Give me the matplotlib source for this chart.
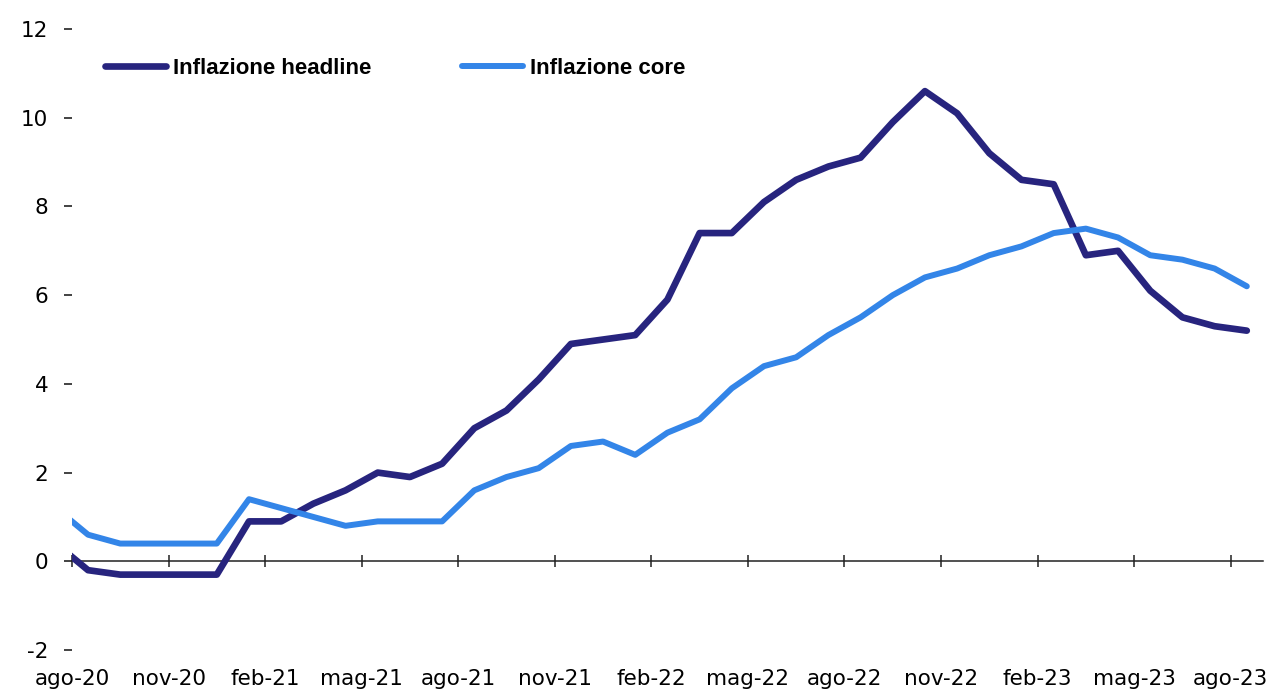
import matplotlib
matplotlib.use('Agg')
import matplotlib.pyplot as plt
import numpy as np


# Mesi (valori a metà mese), da lug-20 ad ago-23
mesi = ['lug-20', 'ago-20', 'set-20', 'ott-20', 'nov-20', 'dic-20',
        'gen-21', 'feb-21', 'mar-21', 'apr-21', 'mag-21', 'giu-21',
        'lug-21', 'ago-21', 'set-21', 'ott-21', 'nov-21', 'dic-21',
        'gen-22', 'feb-22', 'mar-22', 'apr-22', 'mag-22', 'giu-22',
        'lug-22', 'ago-22', 'set-22', 'ott-22', 'nov-22', 'dic-22',
        'gen-23', 'feb-23', 'mar-23', 'apr-23', 'mag-23', 'giu-23',
        'lug-23', 'ago-23']

# Inflazione headline (%)
headline = [0.4, -0.2, -0.3, -0.3, -0.3, -0.3,
            0.9, 0.9, 1.3, 1.6, 2.0, 1.9,
            2.2, 3.0, 3.4, 4.1, 4.9, 5.0,
            5.1, 5.9, 7.4, 7.4, 8.1, 8.6,
            8.9, 9.1, 9.9, 10.6, 10.1, 9.2,
            8.6, 8.5, 6.9, 7.0, 6.1, 5.5,
            5.3, 5.2]

# Inflazione core (%)
core = [1.2, 0.6, 0.4, 0.4, 0.4, 0.4,
        1.4, 1.2, 1.0, 0.8, 0.9, 0.9,
        0.9, 1.6, 1.9, 2.1, 2.6, 2.7,
        2.4, 2.9, 3.2, 3.9, 4.4, 4.6,
        5.1, 5.5, 6.0, 6.4, 6.6, 6.9,
        7.1, 7.4, 7.5, 7.3, 6.9, 6.8,
        6.6, 6.2]

# Etichette dell'asse x (una ogni tre mesi, a inizio mese)
etichette_x = ['ago-20', 'nov-20', 'feb-21', 'mag-21', 'ago-21', 'nov-21',
               'feb-22', 'mag-22', 'ago-22', 'nov-22', 'feb-23', 'mag-23',
               'ago-23']

valori_y = [-2, 0, 2, 4, 6, 8, 10, 12]

COL_HEADLINE = '#27247e'
COL_CORE = '#3385e8'


def main():
    fig = plt.figure(figsize=(12.85, 6.91), dpi=100)
    ax = fig.add_axes([0.056, 0.0593, 0.9268, 0.8987])

    x = np.arange(len(mesi))

    # Linee
    ax.plot(x, headline, color=COL_HEADLINE, linewidth=4.8,
            solid_capstyle='round', solid_joinstyle='round',
            label='Inflazione headline', zorder=3)
    ax.plot(x, core, color=COL_CORE, linewidth=4.3,
            solid_capstyle='round', solid_joinstyle='round',
            label='Inflazione core', zorder=3)

    ax.set_xlim(0.5, len(mesi) - 0.5)
    ax.set_ylim(-2, 12)

    # Tacche ogni tre mesi, all'inizio del mese
    pos_tacche = np.arange(len(etichette_x)) * 3 + 0.5

    # Asse orizzontale sullo zero con tacche, senza etichette
    for s in ['top', 'right', 'left']:
        ax.spines[s].set_visible(False)
    ax.spines['bottom'].set_position(('data', 0))
    ax.spines['bottom'].set_color('#222222')
    ax.spines['bottom'].set_linewidth(1.1)
    ax.set_xticks(pos_tacche)
    ax.tick_params(axis='x', direction='inout', length=8, width=1.1,
                   color='#222222', labelbottom=False)

    # Etichette dei mesi in fondo al grafico
    sec = ax.secondary_xaxis(0.0)
    sec.set_xticks(pos_tacche)
    sec.set_xticklabels(etichette_x)
    sec.spines['bottom'].set_visible(False)
    sec.tick_params(axis='x', length=0, pad=14, labelsize=15.5,
                    labelcolor='#000000')

    # Asse y: solo tacche ed etichette
    ax.set_yticks(valori_y)
    ax.set_yticklabels([str(v) for v in valori_y])
    ax.tick_params(axis='y', direction='out', length=6, width=1.2,
                   color='#222222', pad=11, labelsize=15.5,
                   labelcolor='#000000')

    # Legenda
    ax.legend(loc='upper left', bbox_to_anchor=(0.0277, 0.954), ncol=2,
              frameon=False, borderaxespad=0, borderpad=0,
              handlelength=2.75, handletextpad=0.3, columnspacing=4.1,
              prop={'family': 'Liberation Sans', 'weight': 'bold',
                    'size': 16})

    fig.savefig('out.png', dpi=100, facecolor='white')


if __name__ == "__main__":
    main()
